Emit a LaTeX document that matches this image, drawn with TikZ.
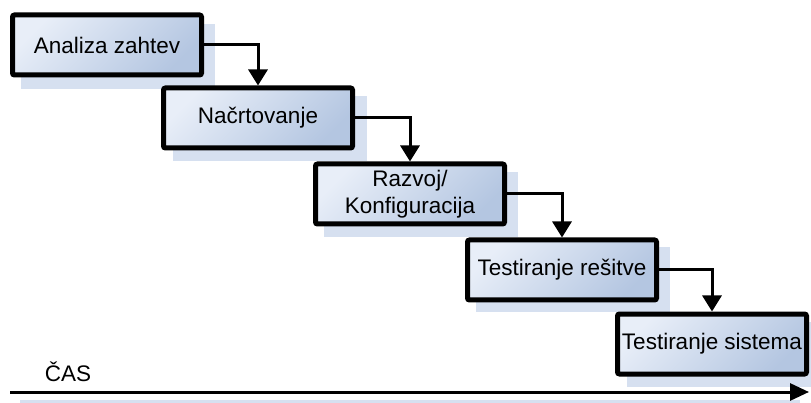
\documentclass[tikz,border=0pt]{standalone}
\usepackage{fontspec}
\setmainfont{Liberation Sans}
\usetikzlibrary{arrows.meta}
\definecolor{boxlight}{RGB}{232,238,248}
\definecolor{boxdark}{RGB}{180,198,225}
\definecolor{shadowblue}{RGB}{214,224,240}
\tikzset{
  phase/.style={draw=black, line width=5pt, rounded corners=2pt,
    top color=boxlight, bottom color=boxdark, shading angle=45,
    minimum width=189pt, minimum height=60pt, inner sep=0pt,
    align=center, font=\fontsize{22.5}{27}\selectfont},
  phaseshadow/.style={fill=shadowblue},
  flow/.style={draw=black, line width=3pt,
    -{Triangle[length=16pt,width=19pt]}},
  timeaxis/.style={draw=black, line width=3pt,
    -{Triangle[length=19pt,width=17pt]}},
}
\begin{document}
\begin{tikzpicture}[x=1pt,y=-1pt]
\useasboundingbox (0,0) rectangle (811,403);
% soft shadows behind the phase boxes
\foreach \xa/\ya in {10/13,162/85,313/161,465/236,616/311}
  \fill[phaseshadow] (\xa+11,\ya+11) rectangle (\xa+205,\ya+76);
\fill[phaseshadow] (20,400) rectangle (800,404);
% phases
\node[phase] (p1) at (107,45)  {Analiza zahtev};
\node[phase] (p2) at (258,118) {Načrtovanje};
\node[phase] (p3) at (410,194) {Razvoj/\\Konfiguracija};
\node[phase] (p4) at (562,270) {Testiranje rešitve};
\node[phase] (p5) at (712,344) {Testiranje sistema};
% hand-offs between phases
\draw[flow] (p1.east) -| (p2.north);
\draw[flow] (p2.east) -| (p3.north);
\draw[flow] (p3.east) -| (p4.north);
\draw[flow] (p4.east) -| (p5.north);
% time axis
\coordinate (t0) at (10,392);
\coordinate (t1) at (809,392);
\draw[timeaxis] (t0) -- (t1);
\node[font=\fontsize{22.5}{27}\selectfont] (cas) at (68,372) {ČAS};
\end{tikzpicture}
\end{document}
